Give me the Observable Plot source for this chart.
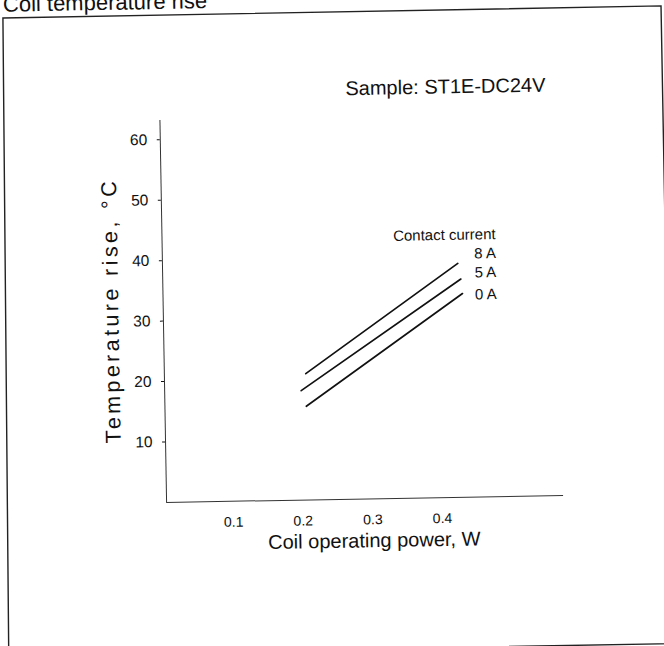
<!DOCTYPE html>
<html><head><meta charset="utf-8">
<script src="https://cdn.jsdelivr.net/npm/d3@7"></script>
<script src="https://cdn.jsdelivr.net/npm/@observablehq/plot@0.6"></script>
<style>
html,body{margin:0;padding:0;background:#fff;overflow:hidden;width:664px;height:646px}
#page{position:absolute;left:0;top:0;width:664px;height:646px;transform:rotate(-1deg);transform-origin:332px 323px;font-family:"Liberation Sans",Arial,Helvetica,sans-serif;color:#111}
#frame{position:absolute;left:0;top:0;overflow:visible}
#title{position:absolute;left:8.5px;top:-12.5px;font-size:22px;line-height:22px;white-space:nowrap}
#chart{position:absolute;left:0;top:0}
</style></head><body>
<div id="page"><svg id="frame" width="664" height="646"><path d="M8.3,12.3L666.5,11.7L667,649.5L3,649.5Z" fill="none" stroke="#222" stroke-width="1.4"/></svg><div id="title"></div><div id="chart"></div></div>
<script>
const title = "Coil temperature rise";
const sampleLabel = "Sample: ST1E-DC24V";
const legendTitle = "Contact current";
const xLabel = "Coil operating power, W";
const yLabel = "Temperature rise, °C";

const currents = ["8 A", "5 A", "0 A"];
const powerFrom = [0.203, 0.196, 0.203];
const powerTo = [0.424, 0.428, 0.430];
const riseFrom = [20.9, 18.1, 15.5];
const riseTo = [38.7, 36.1, 33.7];
const xTicks = [0.1, 0.2, 0.3, 0.4];
const yTicks = [10, 20, 30, 40, 50, 60];

const rows = currents.flatMap((c, i) => [
  {current: c, power: powerFrom[i], rise: riseFrom[i]},
  {current: c, power: powerTo[i], rise: riseTo[i]}
]);
const legendTexts = [legendTitle, ...currents];

document.getElementById("title").textContent = title;

const chart = Plot.plot({
  width: 664, height: 646,
  marginLeft: 163, marginRight: 104, marginTop: 117, marginBottom: 147,
  x: {domain: [0, 0.57]},
  y: {domain: [0, 63.2]},
  style: {fontFamily: '"Liberation Sans", Arial, Helvetica, sans-serif', background: "transparent", color: "#111", overflow: "visible"},
  marks: [
    Plot.ruleX([0], {stroke: "#333", strokeWidth: 1}),
    Plot.ruleY([0], {stroke: "#333", strokeWidth: 1}),
    Plot.axisY({ticks: yTicks, tickSize: 3, tickPadding: 10, fontSize: 15.5, label: null}),
    Plot.axisX({ticks: xTicks, tickSize: 0, tickPadding: 15.5, fontSize: 14, label: null, tickFormat: d3.format(".1f"), dx: -3}),
    Plot.line(rows, {x: "power", y: "rise", z: "current", stroke: "#111", strokeWidth: 1.7}),
    Plot.text(legendTexts, {x: () => 0.479, y: [43.4, 40.25, 37.1, 33.46], text: d => d, textAnchor: "end", lineAnchor: "middle", fontSize: 15}),
    Plot.text([sampleLabel], {frameAnchor: "top-left", dx: 286, dy: -28.5, text: d => d, textAnchor: "middle", lineAnchor: "middle", fontSize: 20}),
    Plot.text([xLabel], {frameAnchor: "bottom-left", dx: 207, dy: 42, text: d => d, textAnchor: "middle", lineAnchor: "middle", fontSize: 20}),
    Plot.text([yLabel], {frameAnchor: "top-left", dx: -51.8, dy: 191, text: d => d, rotate: -90, textAnchor: "middle", lineAnchor: "middle", fontSize: 21.5})
  ]
});
document.getElementById("chart").appendChild(chart);
chart.querySelectorAll("text").forEach(t => {
  if (t.textContent === yLabel) { t.setAttribute("textLength", "262"); t.setAttribute("lengthAdjust", "spacing"); }
});
</script>
</body></html>
